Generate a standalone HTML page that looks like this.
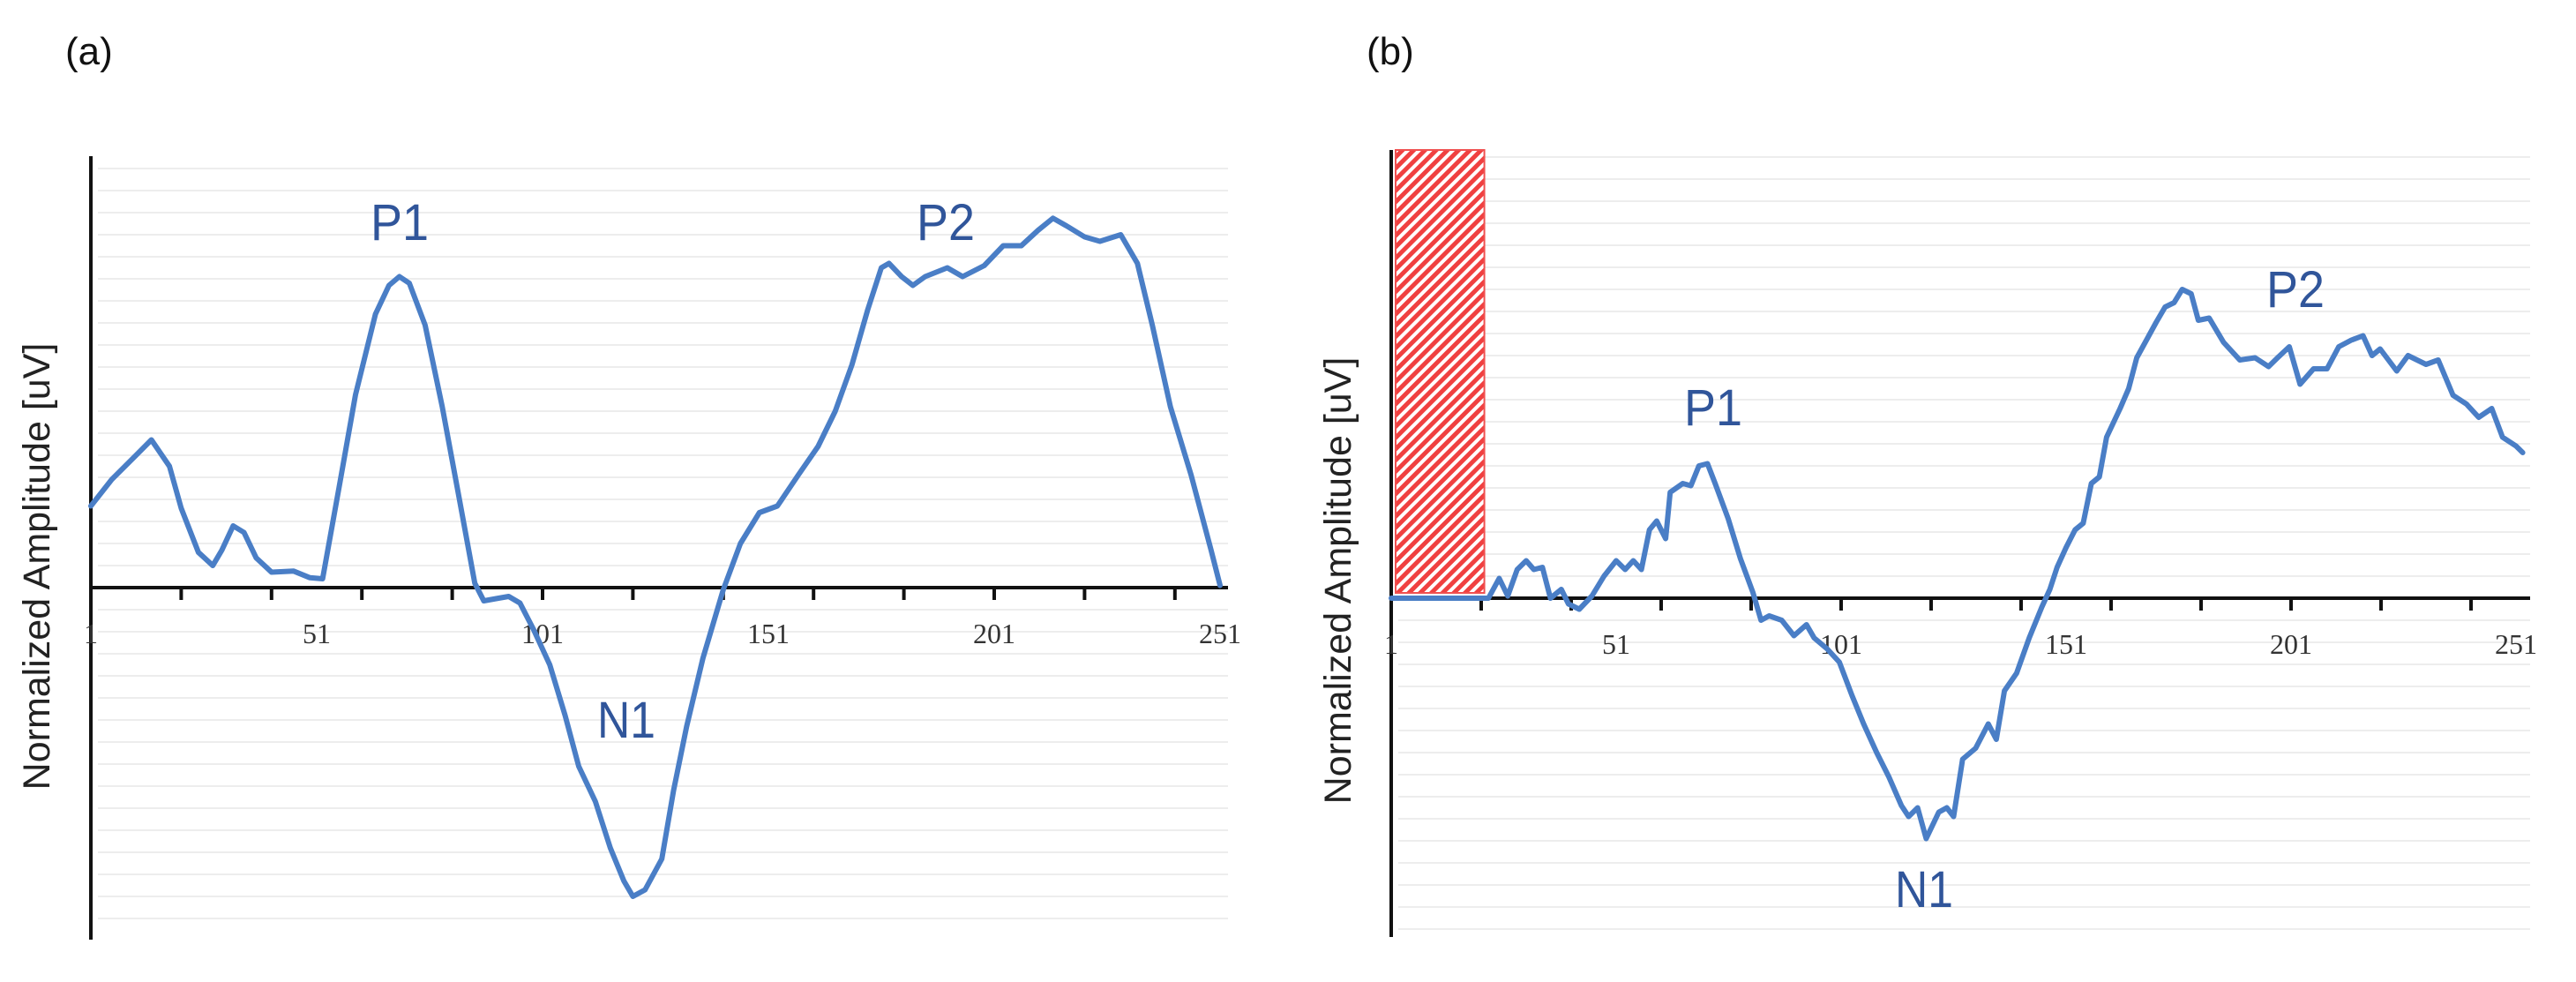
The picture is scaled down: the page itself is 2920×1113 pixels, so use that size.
<!DOCTYPE html>
<html><head><meta charset="utf-8"><style>
html,body{margin:0;padding:0;background:#fff;}
svg{display:block;}
</style></head><body>
<svg id="fig" width="2920" height="1113" viewBox="0 0 2920 1113" xmlns="http://www.w3.org/2000/svg">
<defs>
<pattern id="hatch" patternUnits="userSpaceOnUse" width="9" height="9" patternTransform="rotate(45)">
<rect width="9" height="9" fill="#fff"/>
<rect width="5" height="9" fill="#f04040"/>
</pattern>
</defs>
<text x="74" y="73" font-family="Liberation Sans, sans-serif" font-size="44" fill="#111">(a)</text>
<text x="1549" y="73" font-family="Liberation Sans, sans-serif" font-size="44" fill="#111">(b)</text>
<g id="pa"></g>
<g id="pb"></g>
</svg>
<script>
const xTickLabels = ["1","51","101","151","201","251"];
const peakLabelsA = ["P1","P2","N1"];
const peakLabelsB = ["P1","P2","N1"];
const seriesAIdx = [1,5.6,11,14.4,18.4,21,24.8,28,30,32.5,34.9,37.6,41,45.9,49.5,52.3,56,59.6,64,67,69.3,71.5,75,78.8,82.5,86,88,90.7,93.5,96,99,102.6,106,109,112.7,116,119,121,123.7,127.4,130,132.9,136.5,141,144.8,149,153,157.6,162,165.8,169.5,173,176,177.7,180.5,183,185.7,190.6,194,198.8,203,207,210.7,214,217,221,224.4,229,232.7,236,240,244.6,249,251];
const seriesAVal = [3.7,4.9,6.0,6.7,5.5,3.6,1.6,1.0,1.7,2.8,2.5,1.35,0.7,0.75,0.45,0.4,4.6,8.75,12.4,13.7,14.1,13.8,11.9,8.2,4.1,0.2,-0.6,-0.5,-0.4,-0.7,-1.9,-3.5,-5.8,-8.1,-9.7,-11.8,-13.3,-14.0,-13.7,-12.3,-9.2,-6.3,-3.2,-0.1,2.0,3.4,3.7,5.1,6.4,8.0,10.1,12.6,14.5,14.7,14.1,13.7,14.1,14.5,14.1,14.6,15.5,15.5,16.2,16.75,16.4,15.9,15.7,16.0,14.7,11.9,8.2,5.1,1.7,0.1];
const seriesBIdx = [1,22.6,25,26.9,29,31,32.7,34.6,36.4,38.8,40.4,42.8,45.6,48.3,51,53,54.8,56.6,58.4,60,62,63,65.8,67.6,69.4,71.3,73,75.9,78.6,81.4,83.2,85,87.8,90.5,93.3,95,97.9,100.6,103.4,106,108.9,111.6,114.4,116,118,119.9,122.7,124.5,126,128,130.9,133.7,135.5,137.3,140,142.8,145.6,147.4,149,151,153,154.8,156.6,158.4,160,163,164.9,166.7,169.4,171,173,175,176.8,178.8,180.4,182.8,186,189.6,193,196,198,200.6,203,206,209,211.6,214.4,217,219,220.8,224.5,227,231,233.7,237,240,242.7,245.6,248,251,252.5];
const seriesBVal = [0,0,0.9,0.1,1.3,1.7,1.3,1.4,0,0.4,-0.26,-0.5,0.1,1.0,1.7,1.3,1.7,1.3,3.1,3.5,2.7,4.8,5.2,5.1,6.0,6.1,5.2,3.6,1.8,0.26,-1.0,-0.8,-1.0,-1.7,-1.2,-1.8,-2.3,-2.9,-4.4,-5.7,-7.0,-8.1,-9.4,-9.9,-9.5,-10.9,-9.7,-9.5,-9.9,-7.3,-6.8,-5.7,-6.4,-4.2,-3.4,-1.8,-0.4,0.4,1.4,2.3,3.1,3.4,5.2,5.5,7.3,8.6,9.5,10.9,11.9,12.5,13.2,13.4,14.0,13.8,12.6,12.7,11.6,10.8,10.9,10.5,10.9,11.4,9.7,10.4,10.4,11.4,11.7,11.9,11.0,11.3,10.3,11.0,10.6,10.8,9.2,8.8,8.2,8.6,7.3,6.9,6.6];
const baselineRange = [1, 21.7];
const NS='http://www.w3.org/2000/svg';
function mk(tag, attrs, parent){const e=document.createElementNS(NS,tag);for(const k in attrs)e.setAttribute(k,attrs[k]);parent.appendChild(e);return e;}
function panel(g, cfg, idx, val, labels, labelPos, hatch){
  const xs=i=>cfg.x0+(i-1)*cfg.ux;
  const ys=v=>cfg.y0-v*cfg.uy;
  for(let y=cfg.y0-25; y>=cfg.top-2; y-=25){const l=mk('line',{x1:cfg.x0+8,x2:cfg.xEnd,y1:y,y2:y,stroke:'#ededed','stroke-width':2},g);
    
    }
  for(let y=cfg.y0+25; y<=cfg.bot; y+=25){const l=mk('line',{x1:cfg.x0+8,x2:cfg.xEnd,y1:y,y2:y,stroke:'#ededed','stroke-width':2},g);
    
    }
  if(hatch){const r=mk('rect',{x:xs(baselineRange[0])+5,y:cfg.top,width:xs(baselineRange[1])-xs(baselineRange[0])-5,height:cfg.y0-cfg.top-6,fill:'url(#hatch)',stroke:'#f05050','stroke-width':2},g);
    
    }
  const ya=mk('line',{x1:cfg.x0,x2:cfg.x0,y1:cfg.top,y2:cfg.bot,stroke:'#111','stroke-width':4},g);
  
  
  const xa=mk('line',{x1:cfg.x0,x2:cfg.xEnd,y1:cfg.y0,y2:cfg.y0,stroke:'#111','stroke-width':4},g);
  
  
  for(let i=21;i<=251;i+=20){const t=mk('line',{x1:xs(i),x2:xs(i),y1:cfg.y0,y2:cfg.y0+14,stroke:'#111','stroke-width':4},g);
    
    }
  xTickLabels.forEach(s=>{const t=mk('text',{x:xs(+s),y:cfg.y0+63,'text-anchor':'middle','font-family':'Liberation Serif, serif','font-size':32,fill:'#333'},g);t.textContent=s;
    
    });
  const yt=mk('text',{x:cfg.titleX,y:cfg.titleY,'text-anchor':'middle','font-family':'Liberation Sans, sans-serif','font-size':43,fill:'#222',transform:`rotate(-90 ${cfg.titleX} ${cfg.titleY})`},g);
  yt.textContent='Normalized Amplitude [uV]';
  
  
  const d=idx.map((i,k)=>(k?'L':'M')+xs(i).toFixed(1)+','+ys(val[k]).toFixed(1)).join(' ');
  const p=mk('path',{d:d,fill:'none',stroke:'#4a7ec6','stroke-width':6,'stroke-linejoin':'round','stroke-linecap':'round'},g);
  
  
  labels.forEach((s,k)=>{const t=mk('text',{x:labelPos[k][0],y:labelPos[k][1],'text-anchor':'middle','font-family':'Liberation Sans, sans-serif','font-size':58,fill:'#30559a',textLength:66,lengthAdjust:'spacingAndGlyphs'},g);t.textContent=s;
    
    });
}
panel(document.getElementById('pa'),{x0:103,ux:5.12,y0:666,uy:25,top:177,bot:1065,xEnd:1392,titleX:56,titleY:642},
  seriesAIdx,seriesAVal,peakLabelsA,[[453,272],[1072,272],[710,836]],false);
panel(document.getElementById('pb'),{x0:1577,ux:5.1,y0:678,uy:25,top:170,bot:1062,xEnd:2868,titleX:1531,titleY:658},
  seriesBIdx,seriesBVal,peakLabelsB,[[1942,482],[2602,348],[2181,1028]],true);
</script>
</body></html>
